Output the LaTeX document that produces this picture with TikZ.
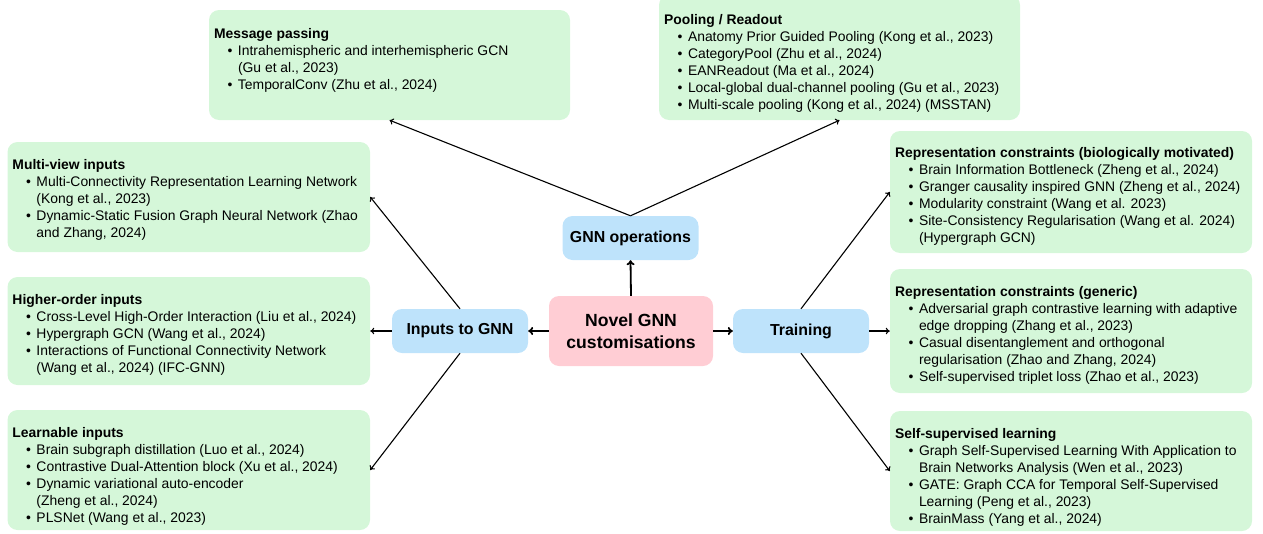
\documentclass[tikz,border=0pt]{standalone}
\usepackage{fontspec}
\setmainfont{Liberation Sans}
\usetikzlibrary{arrows.meta,fit}

\definecolor{leafgreen}{RGB}{213,247,217}
\definecolor{hubblue}{RGB}{190,227,251}
\definecolor{rootpink}{RGB}{255,205,212}

% bullet item and continuation-line indents
\newcommand\mybul{\hspace*{13.6pt}\makebox[10.4pt][l]{\textbullet}}
\newcommand\mycont{\hspace*{24pt}}

\tikzset{
  leaf/.style={fill=leafgreen, draw=none, rounded corners=10pt, inner sep=0pt},
  txt/.style={anchor=north west, inner sep=0pt, align=left,
              font=\fontsize{13.9}{17}\selectfont, text=black},
  hub/.style={fill=hubblue, rounded corners=10pt, minimum width=136pt,
              minimum height=44pt, inner sep=0pt,
              font=\bfseries\fontsize{15.9}{19}\selectfont},
  root/.style={fill=rootpink, rounded corners=10pt, minimum width=164pt,
               minimum height=70pt, inner sep=0pt, align=center,
               font=\bfseries\fontsize{17.6}{22}\selectfont},
  link/.style={line width=1.1pt, -{To[length=4pt,width=6.5pt]}},
  mainlink/.style={line width=1.8pt, -{To[length=5pt,width=8pt]}},
}

\begin{document}
\begin{tikzpicture}[x=1pt,y=-1pt]
\useasboundingbox (0,0) rectangle (1263,533);

% ---------- category boxes ----------
\node[leaf, fit={(209,10) (570,120)}] (mp) {};
\node[txt] (mpt) at ([shift={(5,18)}]mp.north west)
  {\textbf{Message passing}\\
   \mybul Intrahemispheric and interhemispheric GCN\\
   \mycont (Gu et al., 2023)\\
   \mybul TemporalConv (Zhu et al., 2024)};

\node[leaf, fit={(659,-5) (1020,120)}] (pool) {};
\node[txt] (poolt) at ([shift={(5,19.5)}]pool.north west)
  {\textbf{Pooling / Readout}\\
   \mybul Anatomy Prior Guided Pooling (Kong et al., 2023)\\
   \mybul CategoryPool (Zhu et al., 2024)\\
   \mybul EANReadout (Ma et al., 2024)\\
   \mybul Local-global dual-channel pooling (Gu et al., 2023)\\
   \mybul Multi-scale pooling (Kong et al., 2024) (MSSTAN)};

\node[leaf, fit={(7.5,142) (370,252)}] (mv) {};
\node[txt] (mvt) at ([shift={(5,17.5)}]mv.north west)
  {\textbf{Multi-view inputs}\\
   \mybul Multi-Connectivity Representation Learning Network\\
   \mycont (Kong et al., 2023)\\
   \mybul Dynamic-Static Fusion Graph Neural Network (Zhao\\
   \mycont and Zhang, 2024)};

\node[leaf, fit={(7.5,277) (370,385)}] (ho) {};
\node[txt] (hot) at ([shift={(5,17.5)}]ho.north west)
  {\textbf{Higher-order inputs}\\
   \mybul Cross-Level High-Order Interaction (Liu et al., 2024)\\
   \mybul Hypergraph GCN (Wang et al., 2024)\\
   \mybul Interactions of Functional Connectivity Network\\
   \mycont (Wang et al., 2024) (IFC-GNN)};

\node[leaf, fit={(7.5,410) (370,530)}] (li) {};
\node[txt] (lit) at ([shift={(5,17.5)}]li.north west)
  {\textbf{Learnable inputs}\\
   \mybul Brain subgraph distillation (Luo et al., 2024)\\
   \mybul Contrastive Dual-Attention block (Xu et al., 2024)\\
   \mybul Dynamic variational auto-encoder\\
   \mycont (Zheng et al., 2024)\\
   \mybul PLSNet (Wang et al., 2023)};

\node[leaf, fit={(890,131) (1252,253)}] (bio) {};
\node[txt] (biot) at ([shift={(5,16.5)}]bio.north west)
  {\textbf{Representation constraints (biologically motivated)}\\
   \mybul Brain Information Bottleneck (Zheng et al., 2024)\\
   \mybul Granger causality inspired GNN (Zheng et al., 2024)\\
   \mybul Modularity constraint (Wang et al. 2023)\\
   \mybul Site-Consistency Regularisation (Wang et al. 2024)\\
   \mycont (Hypergraph GCN)};

\node[leaf, fit={(890,269) (1252,393)}] (gen) {};
\node[txt] (gent) at ([shift={(5,17)}]gen.north west)
  {\textbf{Representation constraints (generic)}\\
   \mybul Adversarial graph contrastive learning with adaptive\\
   \mycont edge dropping (Zhang et al., 2023)\\
   \mybul Casual disentanglement and orthogonal\\
   \mycont regularisation (Zhao and Zhang, 2024)\\
   \mybul Self-supervised triplet loss (Zhao et al., 2023)};

\node[leaf, fit={(890,411) (1252,531)}] (ss) {};
\node[txt] (sst) at ([shift={(5,17)}]ss.north west)
  {\textbf{Self-supervised learning}\\
   \mybul Graph Self-Supervised Learning With Application to\\
   \mycont Brain Networks Analysis (Wen et al., 2023)\\
   \mybul GATE: Graph CCA for Temporal Self-Supervised\\
   \mycont Learning (Peng et al., 2023)\\
   \mybul BrainMass (Yang et al., 2024)};

% ---------- central hubs ----------
\node[root] (novel) at (631,331) {Novel GNN\\customisations};
\node[hub] (ops) at (630.5,238) {GNN operations};
\node[hub] (inp) at (460,331) {Inputs to GNN};
\node[hub] (trn) at (801,331) {Training};

% ---------- connectors ----------
\draw[mainlink] (novel.north) -- (ops.south);
\draw[mainlink] (novel.west) -- (inp.east);
\draw[mainlink] (novel.east) -- (trn.west);

\draw[link] (ops.north) -- (mp.south);
\draw[link] (ops.north) -- (pool.south);

\draw[link] (inp.north) -- (mv.east);
\draw[link] (inp.west) -- (ho.east);
\draw[link] (inp.south) -- (li.east);

\draw[link] (trn.north) -- (bio.west);
\draw[link] (trn.east) -- (gen.west);
\draw[link] (trn.south) -- (ss.west);
\end{tikzpicture}
\end{document}
